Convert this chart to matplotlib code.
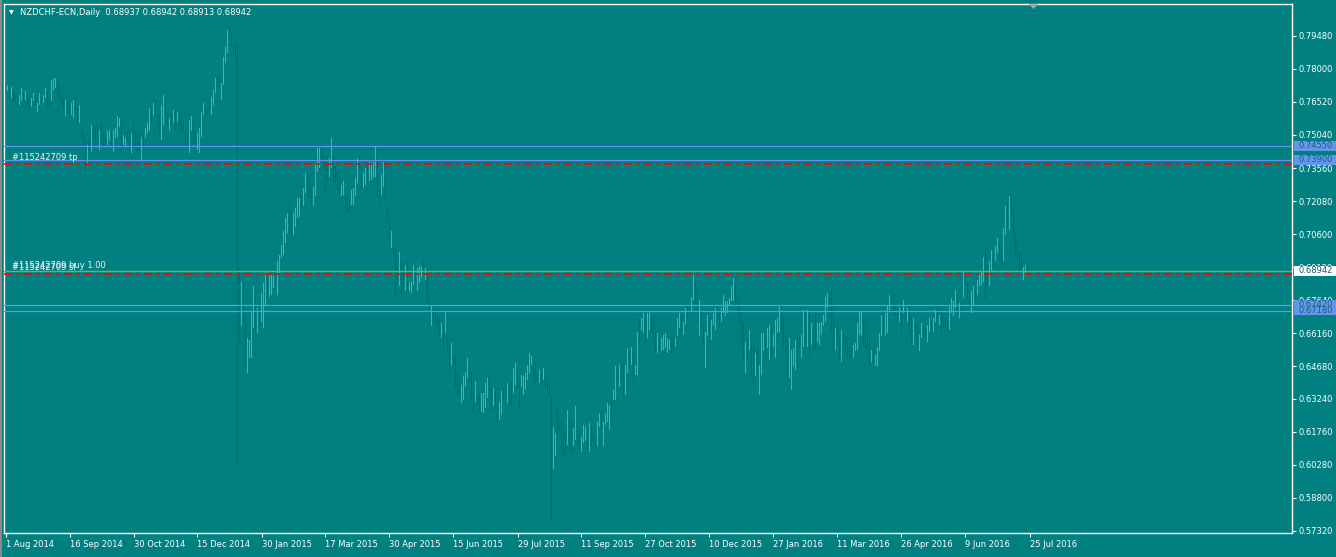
import matplotlib
matplotlib.use("Agg")
import matplotlib.pyplot as plt
import matplotlib.transforms as mtransforms
from matplotlib.patches import Rectangle, Polygon
import numpy as np

# ---------------- data (prices in pips, 1e-4) ----------------
SYMBOL_TITLE = "NZDCHF-ECN,Daily  0.68937 0.68942 0.68913 0.68942"

HIGH_1 = [7736,7729,7714,7721,7699,7684,7676,7684,7714,7691,
          7699,7691,7676,7669,7691,7684,7647,7691,7676,7684,
          7714,7699,7661,7751,7758,7758,7743,7736,7684,7669,
          7661,7654,7654,7647,7661,7676,7631,7639,7527,7520,
          7490,7460,7490,7550,7542,7535,7550,7527,7557,7512,
          7497,7520,7527,7520,7527,7535,7587,7579,7564,7505,
          7490,7520,7520,7512,7557,7520,7512,7512,7497,7505,
          7535,7557,7624,7617,7647,7661,7609,7594,7639,7684,
          7661,7602,7579,7609,7617,7617,7609,7609,7587,7572,
          7520,7505,7572,7587,7572,7520,7512,7535,7609,7647,
          7631,7624,7647,7676,7706,7758,7766,7766,7736,7855,
          7900,7975,7979,7960,7908,7915,7917]
LOW_1 = [7676,7699,7661,7669,7654,7647,7631,7639,7654,7654,
         7661,7639,7617,7631,7654,7639,7609,7639,7647,7647,
         7669,7631,7624,7654,7706,7714,7676,7661,7639,7617,
         7587,7594,7587,7594,7579,7602,7550,7557,7490,7468,
         7340,7370,7438,7430,7482,7460,7490,7438,7460,7460,
         7452,7460,7475,7460,7430,7490,7497,7542,7430,7460,
         7452,7475,7415,7423,7445,7445,7430,7408,7393,7445,
         7490,7512,7520,7564,7594,7587,7542,7505,7482,7550,
         7587,7542,7520,7550,7557,7520,7564,7527,7520,7520,
         7460,7445,7423,7520,7468,7460,7438,7423,7497,7594,
         7587,7594,7609,7594,7639,7691,7721,7721,7661,7729,
         7826,7870,7938,7900,7870,7833,6028]
DIR_1 = ("DUDUDDDUUD" "UDDUUDUUDU" "UDDUUUDDDD" "UDDUUDDUDD" "DUDUDDDUDD"
         "DUUDUUUUDU" "UDDUDDDDUD" "UUUDUDDDUU" "DDUDUDUDDD" "DDUUDDUUUU"
         "DDDUUUDDUU" "UUDDDDD")

HIGH_2 = [6908,6848,6841,6714,6595,6587,6714,6826,6781,6729,
          6759,6796,6841,6893,6871,6871,6878,6871,6893,6938,
          6968,7012,7072,7132,7154,7199,7169,7154,7177,7221,
          7221,7229,7266,7333,7318,7326,7273,7273,7370,7445,
          7445,7460,7445,7385,7408,7400,7490,7415,7363,7340,
          7333,7281,7296,7229,7229,7214,7259,7266,7311,7400,
          7415,7370,7333,7355,7385,7385,7385,7385,7452,7438,
          7259,7326,7385,7393,7177,7110,7072,7005,6997,6915,
          6982,6945,6923,6923,6930,6848,6848,6923,6908,6908,
          6923,6915,6938,6908,6908]
LOW_2 = [6579,6647,6669,6475,6438,6505,6505,6640,6617,6617,
         6647,6669,6640,6737,6781,6781,6789,6819,6841,6789,
         6886,6953,6968,7020,7065,7057,7050,7057,7094,7132,
         7139,7169,7184,7244,7236,7221,7191,7184,7229,7340,
         7355,7385,7355,7251,7296,7318,7355,7288,7281,7259,
         7236,7229,7236,7169,7161,7161,7191,7191,7229,7288,
         7355,7266,7266,7281,7311,7296,7303,7311,7318,7229,
         7191,7236,7273,7206,7110,7020,6997,6960,6774,6856,
         6826,6789,6819,6804,6804,6804,6796,6833,6848,6804,
         6841,6863,6878,6856,6752]
DIR_2 = ("DUDDUUUUDU" "DUUUDUUUDU" "UUUUUDDUUU" "UDUUDDDUUU" "UDDDDUUDDD"
         "DUUDDDUUUU" "DDUUDUUUUD" "DUUDDDUDDD" "UDDUDUUUDU" "UUDUD")

HIGH_3 = [6781,6744,6729,6714,6692,6685,6662,6654,6714,6595,
          6565,6572,6520,6520,6445,6393,6386,6423,6445,6505,
          6468,6445,6363,6401,6341,6349,6349,6349,6393,6416,
          6423,6371,6371,6356,6289,6311,6356,6371,6371,6393,
          6393,6393,6461,6483,6453,6416,6431,6423,6438,6475,
          6528,6516,6483,6483,6438,6453,6438,6461,6438,6393,
          6393,6326,6199,6169,6281,6221,6229,6177,6169,6274,
          6237,6229,6192,6289,6184,6169,6154,6207,6199,6154,
          6214,6207,6169,6154,6221,6259,6274,6221,6259,6304,
          6296,6319,6363,6468,6461,6475,6468,6483,6475,6550,
          6528,6557,6528,6475,6624,6685,6685,6707,6685,6707,
          6707,6692,6692,6624,6617,6595,6595,6609,6617,6595,
          6587,6579,6602,6595,6685]
LOW_3 = [6707,6647,6669,6662,6632,6595,6595,6557,6617,6528,
         6453,6475,6475,6371,6333,6326,6304,6319,6378,6416,
         6393,6311,6274,6311,6289,6266,6266,6259,6281,6326,
         6356,6274,6289,6274,6199,6229,6251,6319,6326,6304,
         6296,6289,6349,6386,6371,6281,6378,6341,6363,6408,
         6438,6475,6408,6386,6401,6393,6378,6408,6378,6356,
         6333,5774,6008,6065,6132,6177,6095,6072,6058,6117,
         6095,6087,6110,6140,6110,6095,6087,6125,6132,6095,
         6087,6110,6125,6102,6110,6199,6177,6110,6207,6221,
         6184,6251,6319,6319,6408,6378,6408,6333,6341,6438,
         6468,6475,6401,6431,6431,6579,6632,6617,6572,6595,
         6632,6617,6587,6528,6528,6542,6535,6542,6550,6528,
         6542,6528,6535,6557,6602]
DIR_3 = ("DUDDDDUDUD" "DUDDDDUUUU" "DDDUDDUUUU" "DDUDDUUDDU" "DDUUDDUUUU"
         "UUDDDUDUDD" "DDUUDDDDDU" "DDUUDDUUUD" "UDDDUUDUUU" "UDUUDUDDUU"
         "DUDUUDUUDU" "UDDDUDUUUU" "UDDUU")

HIGH_4 = [6707,6692,6669,6729,6744,6737,6781,6878,6848,6826,
          6766,6721,6654,6624,6699,6692,6677,6707,6729,6744,
          6721,6729,6789,6759,6759,6774,6826,6863,6833,6789,
          6766,6714,6669,6579,6595,6632,6565,6565,6528,6557,
          6475,6617,6617,6587,6640,6654,6647,6609,6677,6685,
          6744,6744,6692,6609,6587,6595,6542,6550,6587,6602,
          6609,6609,6721,6714,6721,6714,6662,6640,6714,6662,
          6662,6669,6699,6781,6796,6781,6811,6737,6640,6647,
          6602,6632,6617,6602,6595,6557,6557,6565,6572,6662,
          6714,6714,6685,6669,6609,6587,6542,6535,6520,6557,
          6617,6699,6707,6707,6744,6789,6789,6774,6752,6729,
          6729,6766,6766,6721,6729,6737,6692,6685,6669,6662,
          6609,6662,6654,6640,6654,6685,6677,6685,6721,6737,
          6699,6721,6692,6685,6677,6737,6774,6759,6811,6781,
          6752,6752,6893,6886,6848,6804,6804,6826,6804,6856,
          6886,6893,6960,7005,6923,6938,6990,6975,7005,7042,
          7020,6997,7087,7184,7199,7229,7221,7177,7065,7035,
          6977,6977,6915,6923,6930,6895]
LOW_4 = [6640,6624,6609,6654,6685,6699,6714,6766,6744,6699,
         6602,6640,6565,6461,6602,6572,6587,6654,6632,6669,
         6647,6669,6707,6692,6707,6737,6759,6759,6744,6707,
         6669,6565,6498,6438,6498,6542,6423,6386,6423,6445,
         6341,6431,6535,6505,6550,6498,6505,6557,6505,6617,
         6624,6624,6550,6512,6401,6416,6363,6468,6453,6461,
         6557,6505,6557,6572,6557,6512,6565,6535,6542,6579,
         6565,6609,6647,6669,6729,6685,6624,6535,6542,6565,
         6498,6490,6565,6535,6512,6505,6512,6505,6535,6542,
         6609,6602,6565,6550,6535,6475,6490,6461,6468,6468,
         6535,6602,6609,6609,6617,6721,6744,6714,6692,6677,
         6669,6624,6707,6677,6669,6624,6572,6565,6602,6557,
         6535,6595,6595,6595,6579,6624,6624,6624,6669,6685,
         6654,6624,6640,6640,6624,6632,6707,6692,6729,6699,
         6685,6714,6774,6833,6774,6729,6707,6737,6766,6789,
         6826,6833,6848,6766,6833,6826,6900,6915,6938,6975,
         6938,6923,6938,7057,7087,7080,7147,7027,6968,6945,
         6893,6908,6856,6878,6886,6890]
DIR_4 = ("UDUUDDUUDD" "UDDUUDUUUD" "DUUUUUUUDD" "DDDUDUDDUD" "UUUDUUDUUU"
         "UDDDDUUUUD" "DUUDUDUDDU" "UUUUUDDDUD" "DUDDDDDUUU" "UUDDDDUDUU"
         "UUDUUUDDDD" "UDUDUDDUDD" "UUDDUUDUUD" "UDDDDUUUUD" "UDUDDDUUDU"
         "UUUDDUUDUU" "DDUUDUDDDD" "DDUUDU")

HIGHS = HIGH_1 + HIGH_2 + HIGH_3 + HIGH_4
LOWS = LOW_1 + LOW_2 + LOW_3 + LOW_4
DIRS = DIR_1 + DIR_2 + DIR_3 + DIR_4

Y_TICKS = [0.79480, 0.78000, 0.76520, 0.75040, 0.73560, 0.72080, 0.70600,
           0.69120, 0.67640, 0.66160, 0.64680, 0.63240, 0.61760, 0.60280,
           0.58800, 0.57320]
X_TICK_POS = [0, 32, 64, 96, 128, 160, 192, 224, 256, 288, 320, 352, 384,
              416, 448, 480, 512]
X_TICK_LABELS = ["1 Aug 2014", "16 Sep 2014", "30 Oct 2014", "15 Dec 2014",
                 "30 Jan 2015", "17 Mar 2015", "30 Apr 2015", "15 Jun 2015",
                 "29 Jul 2015", "11 Sep 2015", "27 Oct 2015", "10 Dec 2015",
                 "27 Jan 2016", "11 Mar 2016", "26 Apr 2016", "9 Jun 2016",
                 "25 Jul 2016"]

BLUE_LEVELS = [0.74550, 0.73900, 0.67180, 0.67420]
BID = 0.68942
ORDER_OPEN = 0.68942
TP_LEVEL = 0.7374
SL_LEVEL = 0.6882
ORDER_ID = "#115242709"

# ---------------- styling ----------------
W, H = 1336, 557
BG = "#008080"
BULL = "#22e022"
BEAR = "#9c2a2a"
BLUE = "#6495ed"
FONT = ["DejaVu Sans"]
FS = 6.0

n = min(len(HIGHS), len(LOWS), len(DIRS))
highs = np.array(HIGHS[:n]) / 1e4
lows = np.array(LOWS[:n]) / 1e4
idx = np.arange(n)

plt.rcParams['font.family'] = FONT
fig = plt.figure(figsize=(W / 100, H / 100), dpi=100, facecolor=BG)

L, R, T, B = 4, 1292, 4, 533
ax = fig.add_axes([L / W, (H - B) / H, (R - L) / W, (B - T) / H], facecolor=BG)
ax.set_xlim(-0.75, -0.75 + (R - L) / 2.0)
PX_PER_UNIT = 2234.0
ytop = 0.7948 + (35.8 - T) / PX_PER_UNIT
ybot = 0.7948 - (B - 35.8) / PX_PER_UNIT
ax.set_ylim(ybot, ytop)

for s in ax.spines.values():
    s.set_color("white")
    s.set_linewidth(1.0)

# bars: 1-pixel wide high-low bars
cols = [BULL if d == "U" else BEAR for d in DIRS[:n]]
ax.bar(idx, highs - lows, bottom=lows, width=0.5, color=cols,
       linewidth=0, antialiased=False, zorder=2)

# horizontal levels
for lv in BLUE_LEVELS:
    ax.axhline(lv, color=BLUE, lw=0.9, zorder=3)
ax.axhline(BID, color="#9a9a9a", lw=0.9, zorder=3)
ax.axhline(ORDER_OPEN, color="#22e022", lw=0.9, zorder=3.1,
           dashes=(6, 3))
for lv in (TP_LEVEL, SL_LEVEL):
    ax.axhline(lv, color="#ff0000", lw=1.2, zorder=3.2, dashes=(5, 2.5, 2, 2.5))

# order labels
def order_label(txt, price, dy):
    ax.annotate(txt, xy=(0, price), xycoords=("axes fraction", "data"),
                xytext=(8, dy), textcoords="offset pixels", color="#f4f4f4",
                fontsize=FS, va="baseline", ha="left", zorder=6)

order_label(ORDER_ID + " tp", TP_LEVEL, 4.5)
order_label(ORDER_ID + " buy 1.00", ORDER_OPEN, 3.5)
order_label(ORDER_ID + " sl", SL_LEVEL, 3.5)

# y axis (right)
ax.yaxis.tick_right()
ax.set_yticks(Y_TICKS)
ax.set_yticklabels(["%.5f" % v for v in Y_TICKS])
ax.tick_params(axis="y", colors="white", labelcolor="white", length=3,
               width=0.8, pad=1.5, labelsize=FS, direction="out")

# x axis
ax.set_xticks(X_TICK_POS)
ax.set_xticklabels(X_TICK_LABELS)
ax.tick_params(axis="x", colors="white", labelcolor="white", length=3.2,
               width=0.8, pad=1.8, labelsize=FS, direction="out")
for lab in ax.get_xticklabels():
    lab.set_horizontalalignment("left")

# price boxes on the right scale
btrans = mtransforms.blended_transform_factory(ax.transAxes, ax.transData)
x0 = 1 + 2.0 / (R - L)
wbox = 44.0 / (R - L)
hbox = 10.0 / PX_PER_UNIT

def price_box(price, face, tcol):
    ax.add_patch(Rectangle((x0, price - hbox / 2 + 0.3 / PX_PER_UNIT), wbox, hbox,
                           transform=btrans, facecolor=face, edgecolor="none",
                           clip_on=False, zorder=7))
    ax.annotate("%.5f" % price, xy=(1, price), xycoords=btrans,
                xytext=(6.5, 0.5), textcoords="offset pixels", color=tcol,
                fontsize=FS, va="center", ha="left", zorder=8,
                annotation_clip=False)

for lv in BLUE_LEVELS:
    price_box(lv, BLUE, "#16607a")
price_box(BID, "white", "#0b5f6f")

# title
fig.text(9 / W, 1 - 14.3 / H, "\u25bc", color="white", fontsize=4.5,
         va="baseline", ha="left")
fig.text(20.5 / W, 1 - 15 / H, SYMBOL_TITLE, color="white", fontsize=FS,
         va="baseline", ha="left")

# window edge and shift marker
fig.patches.append(Rectangle((0, 0), 2.0 / W, 1, transform=fig.transFigure,
                             facecolor="#8a8a8a", edgecolor="none"))
fig.patches.append(Polygon([[1029 / W, 1 - 4 / H], [1038 / W, 1 - 4 / H],
                            [1033.5 / W, 1 - 9 / H]], closed=True,
                           transform=fig.transFigure, facecolor="#a8a8a8",
                           edgecolor="none"))

fig.savefig("out.png", dpi=100, facecolor=BG)
